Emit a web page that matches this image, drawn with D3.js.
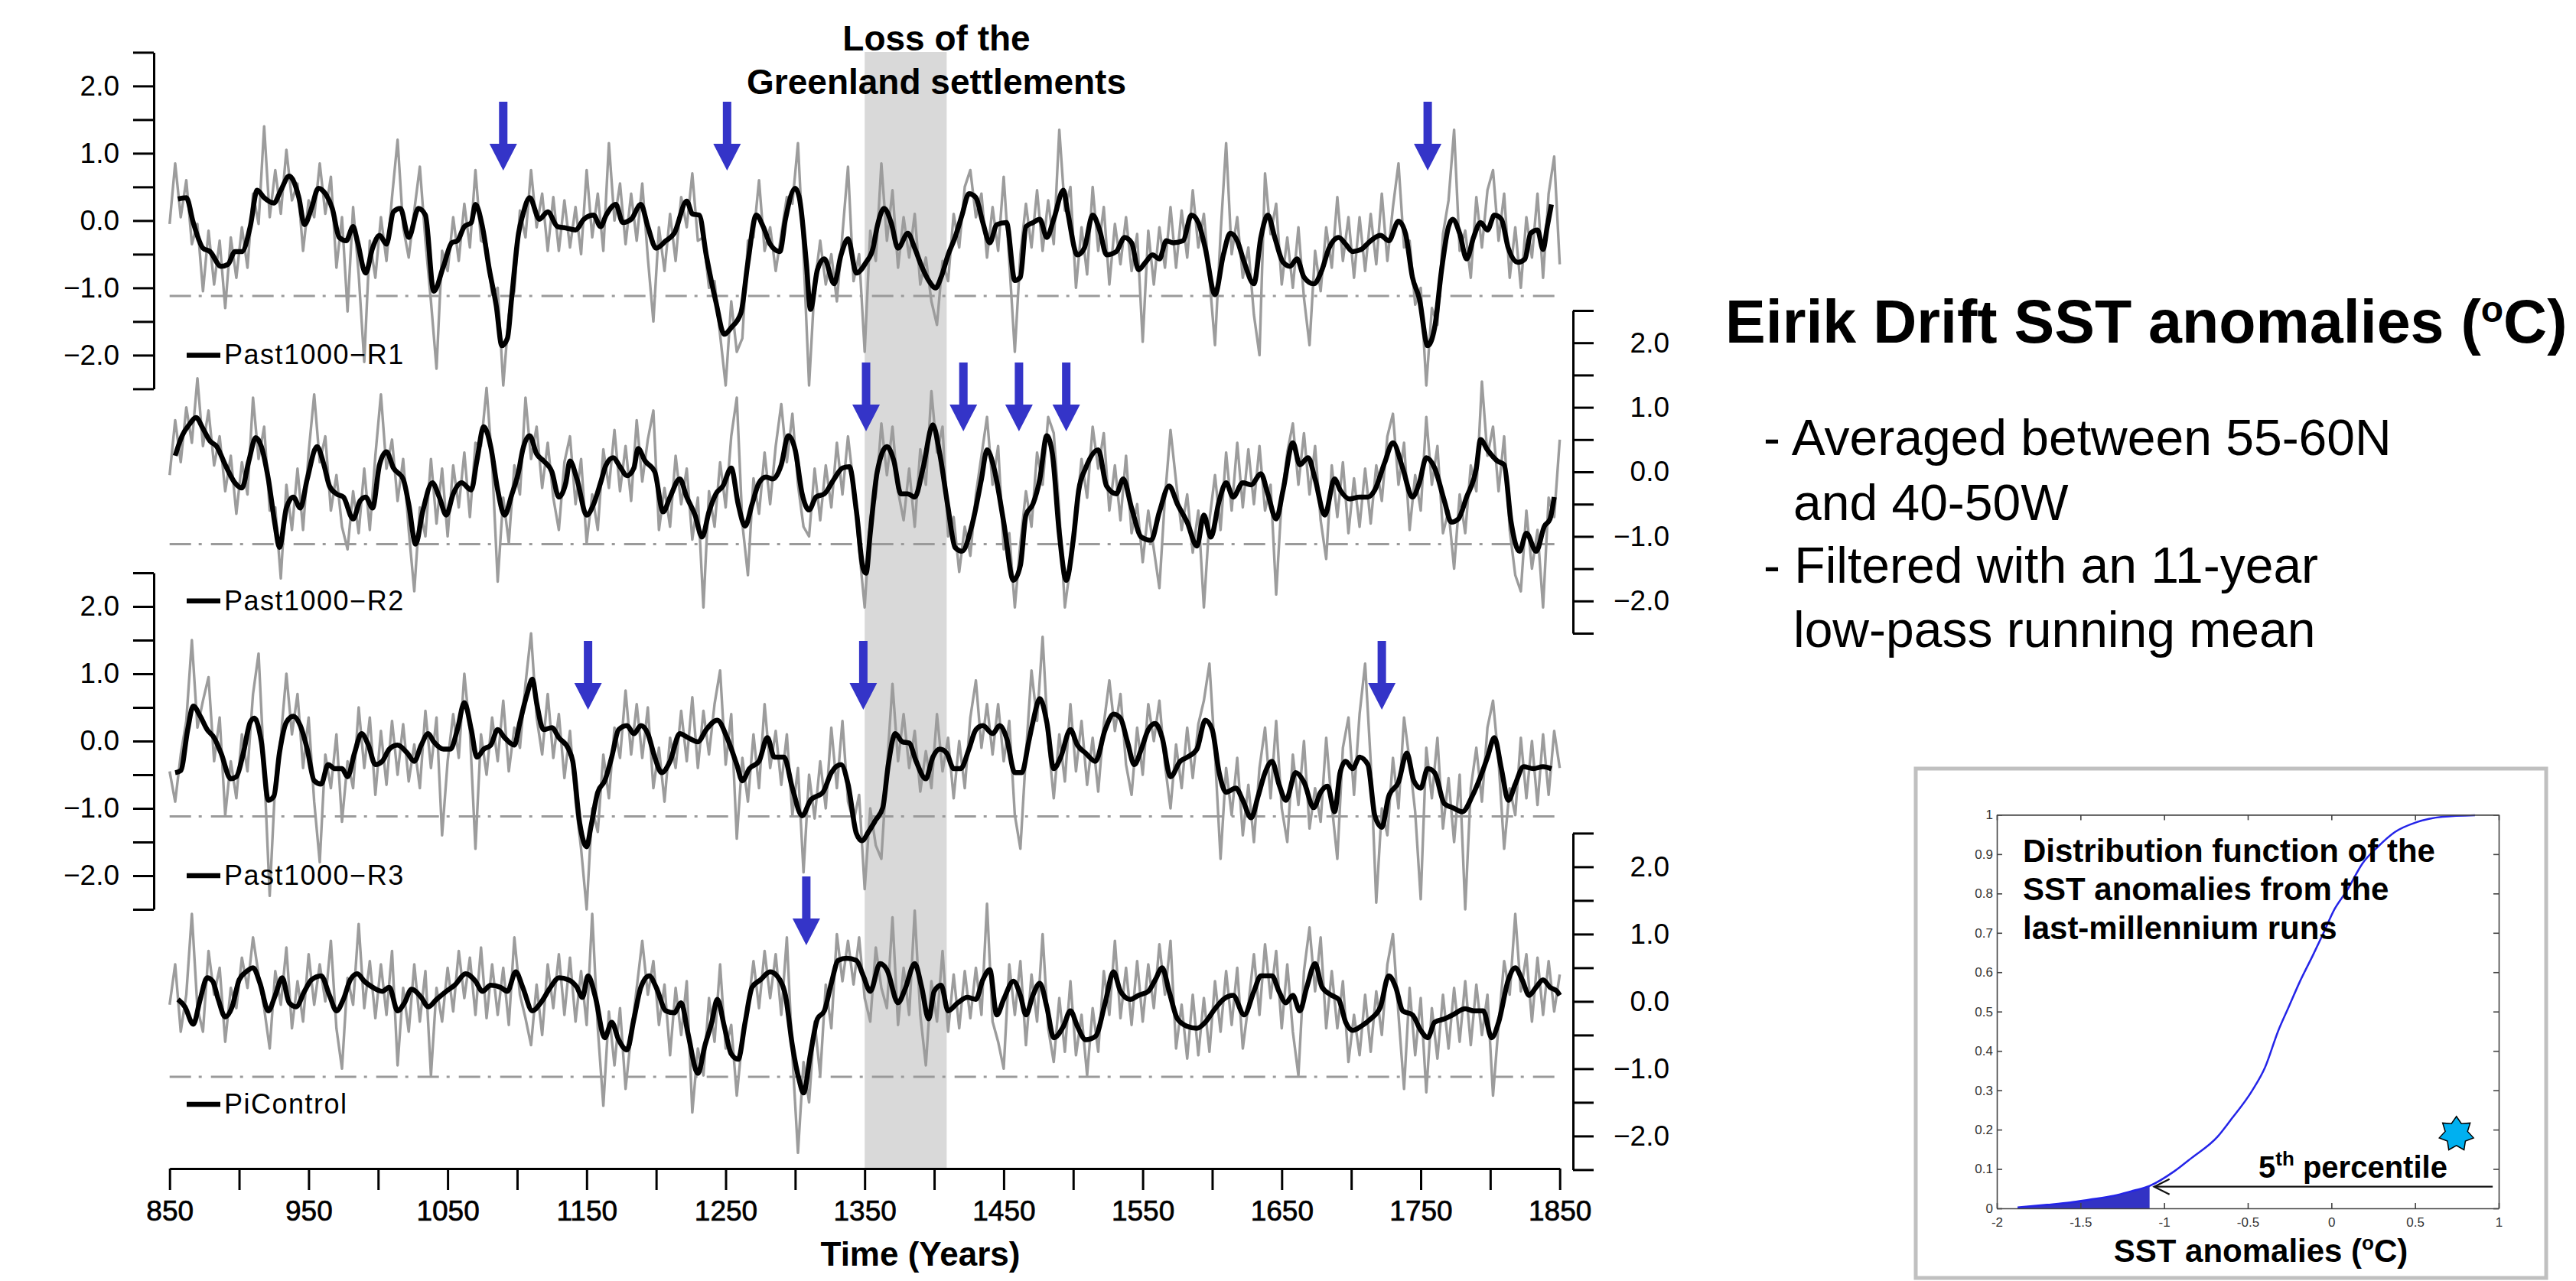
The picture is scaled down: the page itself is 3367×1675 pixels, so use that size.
<!DOCTYPE html>
<html>
<head>
<meta charset="utf-8">
<script src="https://cdnjs.cloudflare.com/ajax/libs/d3/7.8.5/d3.min.js"></script>
<style>
  body { margin: 0; background: #fff; }
  svg { display: block; }
  text { font-family: "Liberation Sans", Arial, sans-serif; }
</style>
</head>
<body>
<svg id="chart" width="3367" height="1675"></svg>
<script>
// ---- time axis ----
const yearTicks = d3.range(850, 1851, 50);
const rawStep = 4; // raw series sampled every 4 years from 850
const threshold = -1.12; // 5th percentile line
const settlementLoss = [1350, 1409];

// ---- Past1000-R1 ----
const r1Raw = [
  -0.05, 0.85, 0.05, 0.60, -0.35, -0.05, -1.05, -0.15, -0.95, -0.30,
  -1.30, -0.25, -0.85, -0.10, -0.70, 0.40, -0.05, 1.40, 0.05, 0.75,
  0.10, 1.05, 0.30, 0.55, -0.45, 0.30, 0.05, 0.85, 0.10, 0.65,
  -0.70, 0.05, -1.35, 0.20, -0.80, -2.10, -0.30, -0.85, 0.05, -0.60,
  0.35, 1.20, -0.10, -0.55, 0.15, 0.80, -0.30, -1.20, -2.20, -0.45,
  -0.75, 0.05, -0.60, 0.25, -0.40, 0.75, -0.30, -0.35, -1.10, -1.00,
  -2.45, -1.40, -1.05, 0.15, -0.25, 0.75, -0.10, 0.40, -0.45, 0.35,
  -0.45, 0.30, -0.40, 0.20, -0.50, 0.75, -0.25, 0.40, -0.45, 1.15,
  0.00, 0.55, -0.35, 0.40, -0.30, 0.55, -0.55, -1.50, -0.10, -0.75,
  0.10, -0.60, 0.35, -0.10, 0.70, -0.30, -0.25, -1.00, -0.90, -1.70,
  -2.45, -1.20, -1.95, -1.75, -0.30, -0.25, 0.60, -0.45, -0.10, -0.75,
  -0.20, 0.35, 0.25, 1.15, -0.50, -2.45, -0.95, -0.30, -0.95, -0.50,
  -1.20, -0.20, 0.80, -0.90, -0.50, -1.95, -0.15, -0.60, 0.85, -0.30,
  0.45, -0.70, 0.05, -0.55, 0.10, -0.95, -0.55, -1.20, -1.55, -0.60,
  -0.90, 0.10, -0.40, 0.50, 0.75, 0.05, 0.40, -0.55, 0.20, -0.45,
  0.65, -0.60, -1.95, -0.50, 0.25, -0.40, 0.45, -0.45, 0.30, -0.35,
  1.35, 0.15, 0.50, -1.00, -0.10, -0.80, 0.50, -0.45, 0.20, -0.95,
  -0.05, -0.65, 0.05, -0.75, -0.20, -1.80, -0.15, -0.95, -0.10, -0.70,
  0.20, -0.70, 0.15, -0.55, 0.45, -0.40, 0.10, -0.85, -1.85, -0.20,
  1.15, -0.50, 0.05, -0.85, -0.40, -1.40, -2.00, 0.70, -0.20, 0.25,
  -0.95, -0.25, -1.00, -0.10, -1.15, -1.85, -0.45, -1.05, -0.10, -0.70,
  0.35, -0.60, 0.05, -0.85, 0.05, -0.75, 0.10, -0.65, 0.40, -0.60,
  0.20, 0.85, -0.40, -0.30, -1.25, -1.00, -2.45, -1.30, -1.55, -0.20,
  0.30, 1.35, -0.45, -0.15, -0.85, 0.35, -0.40, 0.45, 0.75, -0.30,
  0.40, -0.85, -0.10, -1.00, 0.05, -0.55, 0.40, -0.85, 0.40, 0.95,
  -0.65
];
const r1Smooth = [
  [856,0.32],[862,0.34],[867,-0.03],[874,-0.41],[879,-0.46],[887,-0.68],[892,-0.65],[897,-0.46],[902,-0.46],[908,-0.09],
  [913,0.45],[918,0.34],[925,0.26],[930,0.45],[936,0.66],[943,0.34],[947,-0.06],[952,0.18],[957,0.48],[962,0.40],
  [967,0.18],[972,-0.25],[977,-0.30],[982,-0.09],[985,-0.30],[991,-0.78],[996,-0.41],[1001,-0.22],[1006,-0.35],[1011,0.13],
  [1016,0.18],[1022,-0.25],[1029,0.18],[1034,0.08],[1040,-1.05],[1047,-0.68],[1053,-0.33],[1057,-0.30],[1062,-0.09],[1067,-0.03],
  [1070,0.24],[1075,-0.09],[1080,-0.73],[1085,-1.27],[1089,-1.86],[1093,-1.75],[1096,-1.16],[1101,-0.19],[1104,0.08],[1109,0.34],
  [1116,0.02],[1122,0.13],[1129,-0.09],[1135,-0.11],[1142,-0.14],[1148,0.02],[1155,0.08],[1160,-0.09],[1164,0.08],[1171,0.24],
  [1176,-0.03],[1182,0.02],[1189,0.24],[1194,-0.09],[1200,-0.41],[1207,-0.30],[1213,-0.19],[1222,0.29],[1226,0.10],[1231,0.08],
  [1236,-0.51],[1243,-1.21],[1249,-1.69],[1254,-1.59],[1261,-1.37],[1266,-0.62],[1272,0.08],[1277,-0.09],[1282,-0.35],[1289,-0.46],
  [1293,0.02],[1300,0.48],[1303,0.34],[1308,-0.62],[1311,-1.32],[1316,-0.73],[1321,-0.57],[1328,-0.94],[1333,-0.51],[1338,-0.27],
  [1344,-0.78],[1351,-0.62],[1356,-0.41],[1359,-0.09],[1364,0.18],[1369,-0.03],[1374,-0.41],[1381,-0.19],[1386,-0.41],[1391,-0.68],
  [1396,-0.89],[1401,-1.00],[1405,-0.84],[1410,-0.51],[1415,-0.25],[1420,0.08],[1425,0.40],[1430,0.34],[1435,-0.03],[1440,-0.33],
  [1445,-0.06],[1452,-0.03],[1458,-0.89],[1462,-0.84],[1466,-0.09],[1471,-0.03],[1476,0.02],[1481,-0.25],[1486,0.02],[1493,0.45],
  [1496,0.13],[1503,-0.51],[1508,-0.41],[1514,0.08],[1519,-0.14],[1524,-0.51],[1531,-0.46],[1537,-0.25],[1542,-0.33],[1547,-0.73],
  [1552,-0.62],[1557,-0.51],[1562,-0.57],[1567,-0.30],[1572,-0.33],[1579,-0.30],[1585,0.08],[1590,-0.03],[1595,-0.41],[1602,-1.10],
  [1608,-0.51],[1613,-0.19],[1618,-0.30],[1623,-0.62],[1630,-0.94],[1635,-0.25],[1640,0.08],[1645,-0.25],[1651,-0.62],[1656,-0.68],
  [1661,-0.57],[1666,-0.84],[1673,-0.94],[1679,-0.73],[1684,-0.41],[1691,-0.25],[1696,-0.35],[1701,-0.46],[1707,-0.43],[1714,-0.30],
  [1721,-0.22],[1727,-0.30],[1734,-0.01],[1739,-0.19],[1744,-0.84],[1749,-1.16],[1755,-1.86],[1760,-1.59],[1765,-0.73],[1770,-0.09],
  [1773,0.02],[1778,-0.19],[1783,-0.57],[1788,-0.25],[1793,-0.03],[1798,-0.14],[1803,0.08],[1808,0.02],[1813,-0.41],[1820,-0.62],
  [1825,-0.57],[1829,-0.19],[1834,-0.14],[1838,-0.43],[1841,-0.09],[1844,0.24]
];
const r1Arrows = [1090, 1251, 1755];

// ---- Past1000-R2 ----
const r2Raw = [
  -0.05, 0.80, 0.15, 1.00, 0.45, 1.45, 0.40, 0.95, 0.10, 0.55,
  -0.30, 0.25, -0.65, 0.15, -0.35, 1.15, 0.20, 0.70, -0.60, -0.55,
  -1.65, -0.20, -0.90, 0.05, -0.90, 0.30, 1.20, 0.15, 0.55, -0.60,
  -0.05, -0.85, -1.20, -0.30, -0.95, 0.05, -0.90, 0.25, 1.20, 0.05,
  0.50, -0.45, 0.20, -0.90, -1.85, -0.55, -1.00, 0.20, -0.80, 0.05,
  -1.00, 0.10, -0.55, 0.30, -0.70, 0.45, 0.40, 1.30, 0.15, -1.70,
  -0.40, -1.10, 0.10, -0.35, 1.15, 0.20, 0.70, -0.25, 0.45, -0.40,
  -0.90, 0.15, 0.55, -0.50, 0.20, -1.10, -0.35, -0.90, 0.35, -0.25,
  0.65, -0.30, 0.40, -0.45, 0.80, -0.15, 0.50, 0.95, -0.90, -0.25,
  -0.85, 0.25, -0.50, 0.05, -1.05, -0.40, -2.10, -0.30, -0.85, 0.15,
  -0.55, 0.55, 1.15, -0.80, -1.60, -0.10, -0.65, 0.30, -0.50, 0.40,
  1.05, 0.15, 0.90, -0.20, -0.85, -1.00, 0.05, -0.75, 0.10, -0.55,
  0.45, -0.35, 0.55, -0.20, -1.20, -2.10, -0.70, -0.40, 0.75, -0.05,
  0.70, -0.30, -0.75, 0.05, -0.85, 0.35, -0.20, 1.25, 0.30, 0.70,
  -1.00, -0.70, -1.55, -0.85, -1.30, -0.35, 0.25, 0.85, -0.20, 0.40,
  -1.20, -0.95, -2.10, -1.10, -0.30, -0.85, 0.30, -0.20, 0.85, 0.60,
  -0.60, -2.10, -1.45, -0.70, 0.20, -0.40, 0.70, 0.05, 0.60, -0.60,
  0.10, -0.75, 0.25, -0.95, -0.50, -1.40, -0.60, -1.20, -1.80, -0.40,
  0.65, -0.15, -0.90, -0.35, -1.25, -0.60, -2.10, -0.75, -0.05, -0.90,
  0.30, -0.60, 0.45, -0.55, 0.35, -0.50, 0.40, -0.60, -0.20, -1.90,
  -0.40, 0.30, 0.75, -0.20, 0.60, -0.35, 0.40, -0.75, -1.35, 0.10,
  -0.70, 0.15, -0.95, -0.10, -0.85, 0.05, -0.80, 0.10, -0.45, 0.55,
  0.90, -0.20, 0.45, -0.90, -0.05, -0.60, 0.85, -0.20, 0.40, -0.95,
  -0.60, -1.50, -0.35, -0.95, 0.10, -0.30, 1.40, 0.25, 0.70, -0.30,
  0.55, -0.90, -1.60, -1.85, -0.60, -1.50, -0.90, -2.10, -0.40, -0.70,
  0.50
];
const r2Smooth = [
  [854,0.25],[859,0.56],[864,0.73],[869,0.84],[874,0.67],[879,0.48],[884,0.39],[890,0.11],[897,-0.17],[902,-0.25],
  [907,0.17],[912,0.53],[916,0.39],[921,-0.11],[926,-0.84],[929,-1.17],[934,-0.56],[939,-0.39],[944,-0.56],[949,-0.11],
  [956,0.39],[961,0.11],[965,-0.22],[970,-0.34],[975,-0.39],[982,-0.73],[987,-0.45],[991,-0.39],[996,-0.56],[1001,0.11],
  [1006,0.31],[1011,0.06],[1018,-0.11],[1022,-0.50],[1027,-1.12],[1032,-0.62],[1039,-0.17],[1044,-0.39],[1049,-0.67],[1054,-0.34],
  [1060,-0.17],[1067,-0.28],[1071,0.17],[1076,0.70],[1081,0.39],[1086,-0.28],[1091,-0.67],[1096,-0.36],[1101,0.00],[1104,0.34],
  [1109,0.56],[1114,0.28],[1119,0.17],[1125,0.00],[1130,-0.39],[1135,-0.17],[1138,0.17],[1143,-0.11],[1150,-0.67],[1155,-0.50],
  [1160,-0.17],[1164,0.11],[1169,0.22],[1174,0.08],[1179,-0.06],[1184,0.06],[1187,0.36],[1192,0.17],[1199,0.00],[1205,-0.62],
  [1210,-0.39],[1217,-0.11],[1222,-0.39],[1228,-0.67],[1233,-1.01],[1238,-0.62],[1243,-0.34],[1248,-0.22],[1254,0.06],[1259,-0.50],
  [1264,-0.84],[1269,-0.50],[1274,-0.17],[1279,-0.08],[1284,-0.11],[1290,0.11],[1295,0.56],[1300,0.34],[1305,-0.34],[1310,-0.59],
  [1315,-0.39],[1321,-0.34],[1328,-0.11],[1334,0.06],[1339,0.08],[1344,-0.60],[1349,-1.51],[1351,-1.57],[1354,-0.95],[1359,0.00],
  [1366,0.39],[1371,0.17],[1376,-0.34],[1381,-0.34],[1386,-0.39],[1392,0.06],[1399,0.73],[1404,0.28],[1410,-0.56],[1415,-1.17],
  [1420,-1.23],[1427,-0.84],[1434,-0.11],[1438,0.34],[1443,0.06],[1450,-0.78],[1457,-1.68],[1462,-1.45],[1466,-0.67],[1471,-0.50],
  [1476,-0.11],[1481,0.56],[1485,0.28],[1490,-0.95],[1495,-1.68],[1500,-1.06],[1504,-0.28],[1509,0.06],[1518,0.34],[1524,-0.22],
  [1531,-0.34],[1536,-0.11],[1542,-0.56],[1549,-1.01],[1556,-1.06],[1562,-0.62],[1569,-0.22],[1575,-0.50],[1582,-0.78],[1589,-1.15],
  [1594,-0.67],[1599,-1.01],[1605,-0.45],[1610,-0.17],[1615,-0.39],[1622,-0.17],[1628,-0.20],[1635,-0.03],[1640,-0.34],[1646,-0.73],
  [1651,-0.28],[1658,0.45],[1663,0.11],[1669,0.22],[1674,-0.11],[1681,-0.67],[1688,-0.11],[1692,-0.28],[1699,-0.42],[1706,-0.39],
  [1712,-0.39],[1717,-0.28],[1724,0.14],[1730,0.45],[1737,0.06],[1744,-0.39],[1749,-0.17],[1754,0.22],[1760,0.06],[1767,-0.45],
  [1772,-0.78],[1777,-0.73],[1783,-0.39],[1790,0.06],[1793,0.50],[1798,0.34],[1805,0.17],[1810,0.11],[1815,-0.78],[1821,-1.23],
  [1826,-0.95],[1833,-1.23],[1839,-0.84],[1843,-0.73],[1846,-0.39]
];
const r2Arrows = [1351, 1421, 1461, 1495];

// ---- Past1000-R3 ----
const r3Raw = [
  -0.45, -0.90, -0.20, 0.30, 1.50, 0.20, 0.60, 0.95, -0.30, 0.35,
  -1.10, -0.30, -0.85, 0.10, -0.45, 0.70, 1.30, -0.40, -2.30, -0.60,
  0.05, 1.00, 0.10, 0.70, -0.40, 0.35, -0.90, -1.80, -0.20, -0.70,
  0.10, -1.20, -0.30, -0.70, 0.50, -0.40, 0.35, -0.80, 0.15, -0.65,
  0.30, -0.50, 0.25, -0.60, -0.05, -0.70, 0.45, -0.40, 0.35, -1.40,
  -0.30, 0.40, -0.25, 1.00, 0.15, -1.60, 0.10, -0.50, 0.35, -0.30,
  0.60, -0.45, 0.20, -0.10, 0.85, 1.60, 0.35, -0.20, 0.70, -0.25,
  0.40, -0.55, 0.15, -0.90, -1.60, -2.50, -1.00, -1.35, -0.20, -0.85,
  0.20, -0.25, 0.75, -0.20, 0.55, -0.25, 0.50, -0.70, -0.10, -0.90,
  0.05, -0.40, 0.45, -0.30, 0.65, -0.40, 0.45, -0.20, 0.55, 1.05,
  -0.35, 0.40, -1.45, -0.25, -0.90, 0.10, -0.70, 0.55, -0.40, 0.15,
  -0.65, 0.10, -1.10, -0.40, -1.95, -0.50, -1.15, -0.30, -1.00, 0.20,
  -0.70, 0.30, -0.90, -1.20, -0.80, -2.20, -1.00, -1.55, -1.75, -0.40,
  0.85, -0.30, 0.40, -0.40, 0.15, -0.75, -0.15, -0.70, 0.40, -0.45,
  0.05, -0.85, 0.00, -0.70, 0.35, 0.90, -0.10, 0.55, -0.20, 0.55,
  -0.30, 0.30, -1.10, -1.60, -0.20, 1.05, 0.30, 1.55, 0.00, -0.85,
  0.10, -0.60, 0.55, -0.45, 0.30, -0.65, 0.05, -0.75, 0.25, 0.90,
  0.15, 0.70, -0.35, -0.80, 0.20, -0.50, 0.55, 0.00, 0.60, -0.35,
  -1.00, -0.05, -0.70, 0.20, -0.55, 0.25, 0.60, 1.15, -0.20, -1.75,
  -0.40, -1.10, -0.25, -1.40, -0.65, -1.50, -0.40, 0.20, -0.85, 0.30,
  -1.00, -1.50, -0.20, -0.95, 0.00, -1.30, -0.70, -1.20, 0.05, -0.95,
  -1.75, -0.10, 0.35, -0.80, 0.40, 1.15, -0.30, -2.40, -1.00, -1.40,
  -0.25, -1.00, 0.35, -0.30, -1.05, -2.35, -0.10, -0.85, 0.05, -1.30,
  -0.55, -1.50, -0.50, -2.50, -0.70, -0.10, -0.90, 0.20, 0.60, -0.30,
  -1.60, -0.70, -1.10, 0.05, -0.85, 0.00, -0.95, 0.10, -0.80, 0.15,
  -0.40
];
const r3Smooth = [
  [854,-0.47],[858,-0.44],[863,0.17],[867,0.52],[872,0.37],[877,0.17],[882,0.05],[887,-0.18],[894,-0.56],[898,-0.53],
  [903,-0.18],[908,0.28],[911,0.34],[916,-0.01],[921,-0.88],[925,-0.82],[929,-0.18],[934,0.28],[939,0.37],[944,0.23],
  [949,-0.12],[954,-0.59],[959,-0.64],[964,-0.35],[969,-0.41],[974,-0.41],[978,-0.53],[983,-0.18],[988,0.11],[993,-0.06],
  [998,-0.35],[1003,-0.30],[1008,-0.12],[1014,-0.06],[1021,-0.18],[1026,-0.30],[1031,-0.06],[1036,0.11],[1040,-0.01],[1047,-0.12],
  [1052,-0.12],[1057,0.17],[1062,0.57],[1067,0.17],[1071,-0.24],[1076,-0.12],[1081,-0.06],[1086,0.17],[1091,0.05],[1098,-0.06],
  [1102,0.28],[1107,0.69],[1111,0.92],[1114,0.57],[1119,0.17],[1125,0.20],[1130,0.05],[1137,-0.12],[1140,-0.30],[1145,-1.22],
  [1150,-1.57],[1153,-1.28],[1158,-0.76],[1163,-0.59],[1168,-0.24],[1173,0.17],[1179,0.23],[1184,0.11],[1189,0.23],[1194,0.11],
  [1199,-0.24],[1204,-0.47],[1210,-0.30],[1217,0.11],[1223,0.05],[1230,-0.01],[1236,0.17],[1244,0.31],[1251,0.05],[1258,-0.35],
  [1262,-0.59],[1267,-0.41],[1274,-0.30],[1280,0.05],[1285,-0.24],[1292,-0.24],[1298,-0.70],[1305,-1.11],[1311,-0.88],[1320,-0.76],
  [1326,-0.47],[1333,-0.35],[1338,-0.64],[1344,-1.37],[1348,-1.48],[1353,-1.34],[1358,-1.17],[1363,-0.99],[1367,-0.35],[1372,0.11],
  [1377,-0.01],[1382,-0.03],[1387,-0.30],[1394,-0.56],[1399,-0.24],[1404,-0.12],[1409,-0.18],[1414,-0.41],[1419,-0.41],[1425,-0.12],
  [1430,0.17],[1435,0.23],[1442,0.11],[1447,0.23],[1452,0.05],[1458,-0.47],[1463,-0.47],[1468,-0.01],[1471,0.28],[1476,0.63],
  [1481,0.28],[1486,-0.41],[1491,-0.24],[1498,0.17],[1503,-0.06],[1509,-0.18],[1516,-0.30],[1523,0.17],[1529,0.40],[1534,0.34],
  [1539,-0.01],[1544,-0.35],[1549,-0.12],[1554,0.17],[1559,0.26],[1564,0.05],[1570,-0.53],[1577,-0.30],[1582,-0.24],[1589,-0.12],
  [1595,0.31],[1600,0.17],[1605,-0.47],[1610,-0.76],[1617,-0.70],[1622,-0.88],[1628,-1.14],[1633,-0.82],[1638,-0.47],[1643,-0.30],
  [1648,-0.64],[1653,-0.88],[1660,-0.47],[1666,-0.61],[1673,-0.99],[1678,-0.76],[1683,-0.67],[1688,-1.05],[1692,-0.47],[1696,-0.30],
  [1701,-0.41],[1706,-0.24],[1712,-0.35],[1717,-1.11],[1722,-1.28],[1727,-0.82],[1734,-0.61],[1740,-0.18],[1745,-0.59],[1750,-0.70],
  [1755,-0.41],[1760,-0.47],[1767,-0.93],[1773,-0.99],[1780,-1.05],[1787,-0.82],[1793,-0.53],[1798,-0.24],[1803,0.05],[1808,-0.41],
  [1813,-0.88],[1818,-0.64],[1824,-0.38],[1831,-0.41],[1838,-0.38],[1844,-0.41]
];
const r3Arrows = [1151, 1349, 1722];

// ---- PiControl ----
const piRaw = [
  -0.05, 0.55, -0.45, 0.10, 1.30, -0.10, -0.45, 0.75, 0.10, 0.50,
  -0.60, 0.20, -0.10, 0.65, 0.20, 0.95, 0.40, -0.10, -0.70, 0.45,
  -0.05, 0.80, -0.40, 0.30, -0.30, 0.70, -0.05, 0.55, 0.00, 0.90,
  -0.40, -1.00, 0.35, -0.05, 1.15, -0.10, 0.60, -0.25, 0.55, -0.20,
  0.75, -0.95, 0.20, -0.45, 0.55, -0.30, 0.45, -1.10, 0.20, -0.30,
  0.50, -0.15, 0.75, 0.05, 0.65, -0.20, 0.80, -0.25, 0.55, -0.20,
  0.50, -0.35, 0.95, 0.10, -0.25, -0.65, 0.25, -0.50, 0.55, -0.10,
  0.70, -0.20, 0.65, -0.30, 0.45, -0.35, 1.30, -0.40, -1.55, -0.15,
  -0.95, -0.10, -1.30, -0.50, 0.20, 0.90, 0.10, 0.60, -0.35, 0.25,
  -0.80, 0.20, -0.50, 0.30, -1.65, -0.70, -1.10, 0.05, -0.60, 0.55,
  -0.70, -0.35, -1.40, -0.55, -0.10, 0.60, -0.10, 0.75, 0.05, 0.70,
  -0.20, 0.95, -0.80, -2.25, -0.90, -1.50, -0.30, -1.10, 0.25, -0.40,
  1.00, 0.30, 0.90, 0.25, 0.95, 0.05, -0.30, 0.80, 0.20, -0.10,
  1.25, -0.35, 0.50, -0.20, 1.35, -0.20, -0.95, 0.30, -0.30, 0.75,
  -0.45, 0.40, -0.40, 0.45, -0.25, 0.50, -0.20, 1.45, -0.30, -0.60,
  -1.00, 0.55, -0.20, 0.60, -0.65, 0.40, -0.30, 1.00, -0.40, -0.90,
  0.05, -0.75, 0.30, -0.80, -0.20, -1.10, -0.10, -0.75, 0.45, -0.20,
  0.90, -0.25, 0.50, -0.35, 0.60, -0.30, 0.55, -0.10, 0.85, 0.10,
  0.90, -0.70, -0.05, -0.85, 0.10, -0.80, 0.05, -0.75, 0.30, -0.45,
  0.45, -0.35, 0.50, -0.70, -0.05, 0.70, -0.20, 0.85, 0.05, 0.75,
  -0.40, 0.55, -0.45, -1.10, 0.45, 1.10, 0.15, 0.95, -0.40, 0.45,
  -0.40, 0.30, -0.90, -0.20, -0.80, 0.10, -0.75, 0.15, -0.50, 0.55,
  1.00, -0.20, -1.30, 0.20, -0.80, 0.05, -1.35, -0.10, -0.85, 0.10,
  -0.70, 0.20, -0.60, 0.30, -0.65, 0.25, -0.50, 0.10, -1.40, -0.35,
  0.60, 0.10, 1.30, 0.15, 0.70, -0.30, 0.65, -0.20, 0.60, -0.15,
  0.40
];
const piSmooth = [
  [856,0.03],[861,-0.08],[867,-0.34],[872,0.03],[877,0.35],[881,0.30],[885,0.03],[890,-0.23],[895,-0.08],[900,0.32],
  [905,0.44],[910,0.50],[915,0.27],[921,-0.14],[926,0.09],[931,0.35],[936,-0.02],[941,-0.08],[947,0.15],[952,0.32],
  [959,0.38],[965,0.09],[970,-0.14],[975,0.03],[980,0.32],[985,0.41],[990,0.30],[996,0.21],[1003,0.15],[1008,0.21],
  [1014,-0.14],[1019,-0.02],[1024,0.18],[1031,0.06],[1036,-0.08],[1042,0.03],[1049,0.15],[1055,0.24],[1063,0.41],[1070,0.30],
  [1075,0.15],[1081,0.24],[1088,0.21],[1093,0.15],[1099,0.44],[1104,0.21],[1111,-0.14],[1117,-0.02],[1124,0.21],[1130,0.35],
  [1137,0.32],[1143,0.21],[1147,0.06],[1151,0.38],[1156,0.09],[1163,-0.54],[1168,-0.31],[1173,-0.57],[1179,-0.72],[1184,-0.26],
  [1189,0.21],[1195,0.38],[1200,0.21],[1207,-0.14],[1213,-0.17],[1218,-0.02],[1223,-0.49],[1230,-1.07],[1235,-0.66],[1240,-0.31],
  [1244,0.03],[1249,-0.37],[1254,-0.78],[1259,-0.86],[1264,-0.31],[1269,0.21],[1275,0.32],[1282,0.44],[1289,0.32],[1293,0.09],
  [1298,-0.66],[1303,-1.18],[1306,-1.36],[1311,-0.78],[1316,-0.26],[1321,-0.14],[1326,0.27],[1331,0.61],[1337,0.64],[1344,0.61],
  [1349,0.38],[1354,0.15],[1361,0.56],[1366,0.47],[1374,-0.02],[1379,0.18],[1386,0.56],[1391,0.21],[1396,-0.26],[1400,0.15],
  [1405,0.24],[1410,-0.14],[1417,-0.02],[1424,0.06],[1430,0.03],[1435,0.32],[1440,0.47],[1445,-0.20],[1450,0.03],[1457,0.30],
  [1462,0.09],[1466,-0.20],[1471,0.09],[1476,0.27],[1481,-0.08],[1486,-0.54],[1493,-0.37],[1498,-0.14],[1503,-0.37],[1509,-0.57],
  [1516,-0.52],[1523,-0.02],[1529,0.44],[1534,0.15],[1541,0.03],[1547,0.09],[1554,0.15],[1559,0.32],[1564,0.50],[1569,0.15],
  [1575,-0.26],[1582,-0.37],[1589,-0.40],[1595,-0.31],[1602,-0.11],[1608,0.03],[1615,0.09],[1623,-0.20],[1630,0.15],[1635,0.38],
  [1643,0.38],[1648,0.15],[1653,-0.02],[1658,0.09],[1663,-0.14],[1668,0.21],[1674,0.56],[1679,0.21],[1686,0.09],[1691,0.03],
  [1696,-0.31],[1701,-0.43],[1707,-0.37],[1714,-0.26],[1721,-0.08],[1727,0.38],[1732,0.21],[1737,-0.14],[1744,-0.20],[1750,-0.43],
  [1755,-0.54],[1760,-0.31],[1767,-0.26],[1773,-0.20],[1782,-0.11],[1788,-0.14],[1795,-0.14],[1801,-0.54],[1806,-0.31],[1813,0.32],
  [1818,0.50],[1823,0.32],[1828,0.09],[1833,0.21],[1838,0.32],[1843,0.21],[1848,0.15],[1850,0.09]
];
const piArrows = [1308];

// ---- inset: distribution function ----
const cdfX = [-1.876, -1.70, -1.56, -1.45, -1.30, -1.20, -1.087, -0.94, -0.836, -0.681, -0.603, -0.474, -0.397, -0.319,
  -0.254, -0.19, -0.112, -0.047, 0.017, 0.095, 0.185, 0.276, 0.379, 0.508, 0.664, 0.858];
const cdfY = [0.0025, 0.009, 0.015, 0.022, 0.032, 0.043, 0.057, 0.094, 0.128, 0.182, 0.224, 0.299, 0.358, 0.45,
  0.513, 0.575, 0.642, 0.70, 0.759, 0.809, 0.876, 0.918, 0.956, 0.981, 0.995, 0.999];
const p5 = { x: -1.087, y: 0.055, labelEnd: 0.964 };
const obsStar = { x: 0.747, y: 0.189 };
const insetXTicks = [-2, -1.5, -1, -0.5, 0, 0.5, 1];
const insetYTicks = d3.range(0, 11).map(i => i / 10);

// =====================================================================
const svg = d3.select("#chart");
const FONT = '"Liberation Sans", Arial, sans-serif';
const x = d3.scaleLinear().domain([850, 1850]).range([221.7, 2038.7]);
const plotTop = 68, plotBottom = 1528;

const panels = [
  { label: "Past1000\u2212R1", raw: r1Raw, smooth: r1Smooth, arrows: r1Arrows, y0: 288.4, k: 88, side: "left", legendAt: -2, arrowTop: 133 },
  { label: "Past1000\u2212R2", raw: r2Raw, smooth: r2Smooth, arrows: r2Arrows, y0: 617, k: 84.4, side: "right", legendAt: -2, arrowTop: 474 },
  { label: "Past1000\u2212R3", raw: r3Raw, smooth: r3Smooth, arrows: r3Arrows, y0: 969, k: 88, side: "left", legendAt: -2, arrowTop: 838 },
  { label: "PiControl", raw: piRaw, smooth: piSmooth, arrows: piArrows, y0: 1309.4, k: 88, side: "right", legendAt: -1.53, arrowTop: 1146 }
];
panels.forEach(p => {
  p.y = d3.scaleLinear().domain([-2.5, 2.5]).range([p.y0 + 2.5 * p.k, p.y0 - 2.5 * p.k]);
});

// shaded period
svg.append("rect")
  .attr("x", x(settlementLoss[0]))
  .attr("y", plotTop)
  .attr("width", x(settlementLoss[1]) - x(settlementLoss[0]))
  .attr("height", plotBottom - plotTop)
  .attr("fill", "#d9d9d9");

// series
panels.forEach(p => {
  svg.append("line")
    .attr("x1", x(850)).attr("x2", x(1850))
    .attr("y1", p.y(threshold)).attr("y2", p.y(threshold))
    .attr("stroke", "#9a9a9a").attr("stroke-width", 3)
    .attr("stroke-dasharray", "28,10,4,12");

  const rawLine = d3.line().x((d, i) => x(850 + rawStep * i)).y(d => p.y(d));
  svg.append("path").datum(p.raw)
    .attr("d", rawLine)
    .attr("fill", "none").attr("stroke", "#9c9c9c")
    .attr("stroke-width", 3.4).attr("stroke-linejoin", "round");

  const smLine = d3.line().curve(d3.curveMonotoneX).x(d => x(d[0])).y(d => p.y(d[1]));
  svg.append("path").datum(p.smooth)
    .attr("d", smLine)
    .attr("fill", "none").attr("stroke", "#000")
    .attr("stroke-width", 6.5).attr("stroke-linejoin", "round");
});

// y axes
const yFmt = d3.format(".1f");
panels.forEach(p => {
  const left = p.side === "left";
  const ax = (left ? d3.axisLeft(p.y) : d3.axisRight(p.y))
    .tickValues(d3.range(-2.5, 2.51, 0.5))
    .tickSize(27).tickSizeOuter(0).tickPadding(18)
    .tickFormat(d => (Math.abs(d) < 2.4 && Math.abs(d - Math.round(d)) < 1e-6) ? yFmt(d) : "");
  const g = svg.append("g")
    .attr("transform", `translate(${left ? 201 : 2056},0)`)
    .call(ax)
    .attr("font-family", FONT).attr("font-size", 37);
  g.selectAll("path, line").attr("stroke", "#000").attr("stroke-width", 3);
  g.selectAll("text").attr("fill", "#000");
  if (!left) g.selectAll("text").attr("text-anchor", "end").attr("x", 126);
});

// time axis
const xAx = d3.axisBottom(x)
  .tickValues(yearTicks)
  .tickSize(28).tickSizeOuter(0).tickPadding(14)
  .tickFormat(d => (d - 850) % 100 === 0 ? d : "");
const gx = svg.append("g")
  .attr("transform", `translate(0,${plotBottom})`)
  .call(xAx)
  .attr("font-family", FONT).attr("font-size", 37);
gx.selectAll("path, line").attr("stroke", "#000").attr("stroke-width", 3);
gx.selectAll("text").attr("fill", "#000").attr("stroke", "#000").attr("stroke-width", 0.7);

svg.append("text")
  .attr("x", 1203).attr("y", 1655)
  .attr("text-anchor", "middle")
  .attr("font-size", 44).attr("font-weight", "bold")
  .text("Time (Years)");

// blue arrows
panels.forEach(p => {
  p.arrows.forEach(yr => {
    const cx = x(yr), t = p.arrowTop;
    svg.append("path")
      .attr("d", `M${cx - 5.5},${t}H${cx + 5.5}V${t + 55}H${cx + 18}L${cx},${t + 90}L${cx - 18},${t + 55}H${cx - 5.5}Z`)
      .attr("fill", "#3434c8");
  });
});

// legends
panels.forEach(p => {
  const ly = p.y(p.legendAt);
  svg.append("line")
    .attr("x1", 244).attr("x2", 288).attr("y1", ly).attr("y2", ly)
    .attr("stroke", "#000").attr("stroke-width", 6.5);
  svg.append("text")
    .attr("x", 293).attr("y", ly + 12)
    .attr("font-size", 36).attr("letter-spacing", 1.5)
    .text(p.label);
});

// annotation for shaded period
svg.append("text")
  .attr("text-anchor", "middle").attr("font-weight", "bold").attr("font-size", 46)
  .selectAll("tspan")
  .data(["Loss of the", "Greenland settlements"])
  .join("tspan")
  .attr("x", 1224)
  .attr("y", (d, i) => i === 0 ? 66 : 123)
  .text(d => d);

// right-hand description
const title = svg.append("text")
  .attr("x", 2255).attr("y", 448)
  .attr("font-size", 79).attr("font-weight", "bold");
title.append("tspan").text("Eirik Drift SST anomalies (");
title.append("tspan").attr("font-size", 48).attr("dy", -27).text("o");
title.append("tspan").attr("dy", 27).text("C)");

const bullets = [
  { x: 2305, y: 595, t: "- Averaged between 55-60N" },
  { x: 2344, y: 680, t: "and 40-50W" },
  { x: 2305, y: 762, t: "- Filtered with an 11-year" },
  { x: 2344, y: 846, t: "low-pass running mean" }
];
svg.append("g").selectAll("text")
  .data(bullets).join("text")
  .attr("x", d => d.x).attr("y", d => d.y)
  .attr("font-size", 66)
  .text(d => d.t);

// ---- inset ----
svg.append("rect")
  .attr("x", 2504).attr("y", 1005).attr("width", 824).attr("height", 666)
  .attr("fill", "#fff").attr("stroke", "#c0c0c0").attr("stroke-width", 5);

const ix = d3.scaleLinear().domain([-2, 1]).range([2610, 3266]);
const iy = d3.scaleLinear().domain([0, 1]).range([1580, 1065.4]);

// shaded tail below 5th percentile
const tail = cdfX.map((v, i) => [v, cdfY[i]]).filter(d => d[0] <= p5.x + 1e-9);
svg.append("path").datum(tail)
  .attr("d", d3.area().x(d => ix(d[0])).y0(iy(0)).y1(d => iy(d[1])))
  .attr("fill", "#3333c4");

svg.append("path").datum(cdfX.map((v, i) => [v, cdfY[i]]))
  .attr("d", d3.line().curve(d3.curveMonotoneX).x(d => ix(d[0])).y(d => iy(d[1])))
  .attr("fill", "none").attr("stroke", "#2424e8").attr("stroke-width", 2.5);

function insetAxis(axis, tx, ty, labels) {
  const g = svg.append("g").attr("transform", `translate(${tx},${ty})`).call(axis)
    .attr("font-family", FONT).attr("font-size", 17);
  g.selectAll("path").attr("stroke", "#444").attr("stroke-width", 1.6);
  g.selectAll("line").attr("stroke", "#444").attr("stroke-width", 1.6);
  g.selectAll("text").attr("fill", "#333");
  if (!labels) g.selectAll("text").remove();
  return g;
}
const yLab = d3.format("~g");
insetAxis(d3.axisLeft(iy).tickValues(insetYTicks).tickSize(-7).tickSizeOuter(0).tickPadding(5).tickFormat(yLab), 2610, 0, true);
insetAxis(d3.axisRight(iy).tickValues(insetYTicks).tickSize(-7).tickSizeOuter(0), 3266, 0, false);
insetAxis(d3.axisBottom(ix).tickValues(insetXTicks).tickSize(-7).tickSizeOuter(0).tickPadding(12).tickFormat(d => String(d)), 0, 1580, true);
insetAxis(d3.axisTop(ix).tickValues(insetXTicks).tickSize(-7).tickSizeOuter(0), 0, 1065.4, false);

// 5th percentile arrow
const ay = iy(p5.y), ax0 = ix(p5.x) + 6;
svg.append("line")
  .attr("x1", ax0).attr("x2", ix(p5.labelEnd))
  .attr("y1", ay).attr("y2", ay)
  .attr("stroke", "#111").attr("stroke-width", 2.2);
svg.append("path")
  .attr("d", `M${ax0 + 20},${ay - 10}L${ax0},${ay}L${ax0 + 20},${ay + 10}`)
  .attr("fill", "none").attr("stroke", "#111").attr("stroke-width", 2.2);

const pct = svg.append("text").attr("x", 2952).attr("y", 1540)
  .attr("font-size", 40).attr("font-weight", "bold");
pct.append("tspan").text("5");
pct.append("tspan").attr("font-size", 26).attr("dy", -16).text("th");
pct.append("tspan").attr("dy", 16).text(" percentile");

// observed value star
const starPts = d3.range(14).map(i => {
  const r = i % 2 === 0 ? 23 : 15;
  const a = -Math.PI / 2 + i * Math.PI / 7;
  return [ix(obsStar.x) + r * Math.cos(a), iy(obsStar.y) + r * Math.sin(a)];
});
svg.append("path")
  .attr("d", "M" + starPts.map(p => p.join(",")).join("L") + "Z")
  .attr("fill", "#00b0f0").attr("stroke", "#000").attr("stroke-width", 1.5);

svg.append("text")
  .attr("font-weight", "bold").attr("font-size", 42)
  .selectAll("tspan")
  .data(["Distribution function of the", "SST anomalies from the", "last-millennium runs"])
  .join("tspan")
  .attr("x", 2644)
  .attr("y", (d, i) => [1127, 1177, 1228][i])
  .text(d => d);

const xl = svg.append("text").attr("x", 2955).attr("y", 1650)
  .attr("text-anchor", "middle").attr("font-size", 42).attr("font-weight", "bold");
xl.append("tspan").text("SST anomalies (");
xl.append("tspan").attr("font-size", 26).attr("dy", -16).text("o");
xl.append("tspan").attr("dy", 16).text("C)");
</script>
</body>
</html>
